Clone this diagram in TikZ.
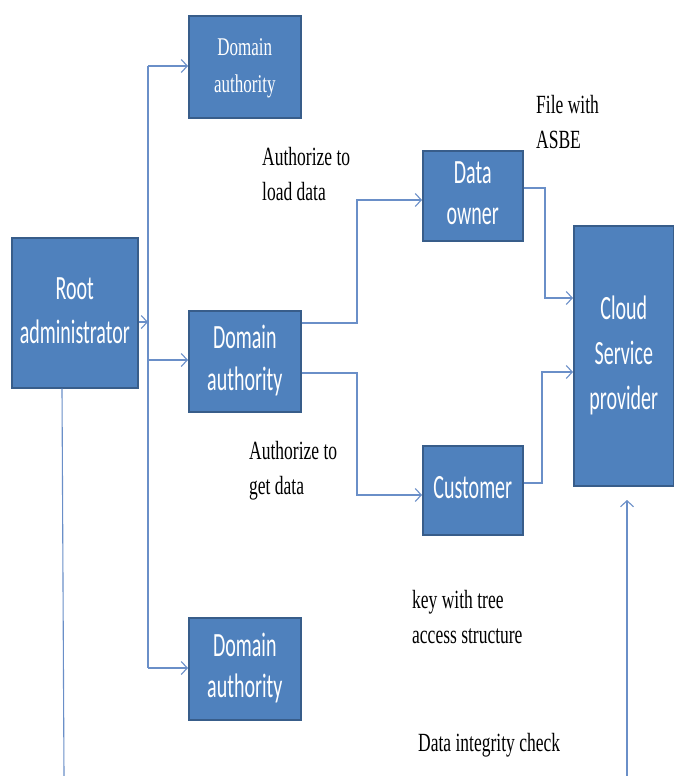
\documentclass[tikz,border=0pt]{standalone}
\usepackage{fontspec}
\setmainfont{Liberation Serif}
\newfontfamily\carl{Carlito}
\usetikzlibrary{arrows.meta,calc}
\definecolor{boxblue}{HTML}{4F81BD}
\definecolor{boxedge}{HTML}{385D8A}
\definecolor{linecol}{HTML}{6A8FC8}
\newcommand\vst[2]{\scalebox{1}[#1]{#2}}
\newcommand\btxt[2][24.5]{{\carl\fontsize{20}{#1}\selectfont\vst{1.7}{\begin{tabular}{@{}c@{}}#2\end{tabular}}}}
\newcommand\ttxt[1]{{\fontsize{17}{24.5}\selectfont\vst{1.5}{\begin{tabular}{@{}c@{}}#1\end{tabular}}}}
\newcommand\otxt[1]{{\fontsize{17.5}{23}\selectfont\vst{1.5}{\begin{tabular}{@{}l@{}}#1\end{tabular}}}}
\begin{document}
\begin{tikzpicture}[x=1pt,y=-1pt,
  box/.style={draw=boxedge,fill=boxblue,line width=1.6pt,text=white,inner sep=0pt,anchor=north west},
  conn/.style={draw=linecol,line width=1.1pt},
  arr/.style={conn,-{Straight Barb[length=6pt,width=13pt]}},
  lbl/.style={inner sep=0pt,anchor=west,text=black}]
\useasboundingbox (0,0) rectangle (673,776);
\fill[white] (0,0) rectangle (673,776);

\node[box,minimum width=112pt,minimum height=102pt] (da1) at (188,15) {\ttxt{Domain\\authority}};
\node[box,minimum width=126pt,minimum height=150pt] (root) at (11,237) {\btxt[26]{Root\\administrator}};
\node[box,minimum width=112pt,minimum height=101pt] (da2) at (188,310) {\btxt{Domain\\authority}};
\node[box,minimum width=100pt,minimum height=90pt] (own) at (422,150) {\btxt{Data\\owner}};
\node[box,minimum width=100pt,minimum height=260pt] (csp) at (573,225) {\btxt[26.5]{Cloud\\Service\\provider}};
\node[box,minimum width=100pt,minimum height=89pt] (cust) at (422,445) {\btxt{Customer}};
\node[box,minimum width=112pt,minimum height=102pt] (da3) at (188,617) {\btxt{Domain\\authority}};

\node[lbl] (l1) at (536,124) {\otxt{File with\\ASBE}};
\node[lbl] (l2) at (262,176) {\otxt{Authorize to\\load data}};
\node[lbl] (l3) at (249,470) {\otxt{Authorize to\\get data}};
\node[lbl] (l4) at (412,619) {\otxt{key with tree\\access structure}};
\node[lbl] (l5) at (418,745) {\otxt{Data integrity check}};

% root to domain authorities
\coordinate (j) at (148,322);
\coordinate (t1) at (148,66);
\coordinate (t2) at (148,360);
\coordinate (t3) at (148,668);
\draw[arr] (root.east |- j) -- (j);
\draw[conn] (t1) -- (t3);
\draw[arr] (t1) -- (da1.west |- t1);
\draw[arr] (t2) -- (da2.west |- t2);
\draw[arr] (t3) -- (da3.west |- t3);

% root downwards
\coordinate (rb) at (64,776);
\draw[conn] (root.south -| 62,0) -- (rb);

% domain authority to data owner and customer
\coordinate (a1) at (357,323);
\coordinate (a2) at (357,200);
\draw[arr] (da2.east |- a1) -- (a1) -- (a2) -- (own.west |- a2);
\coordinate (b1) at (357,373);
\coordinate (b2) at (357,495);
\draw[arr] (da2.east |- b1) -- (b1) -- (b2) -- (cust.west |- b2);

% to cloud service provider
\coordinate (c1) at (545,188);
\coordinate (c2) at (545,298);
\draw[arr] (own.east |- c1) -- (c1) -- (c2) -- (csp.west |- c2);
\coordinate (d1) at (542,483);
\coordinate (d2) at (542,372);
\draw[arr] (cust.east |- d1) -- (d1) -- (d2) -- (csp.west |- d2);

% integrity check arrow
\coordinate (e0) at (627,776);
\coordinate (e1) at (627,500);
\draw[arr] (e0) -- (e1);
\end{tikzpicture}
\end{document}
